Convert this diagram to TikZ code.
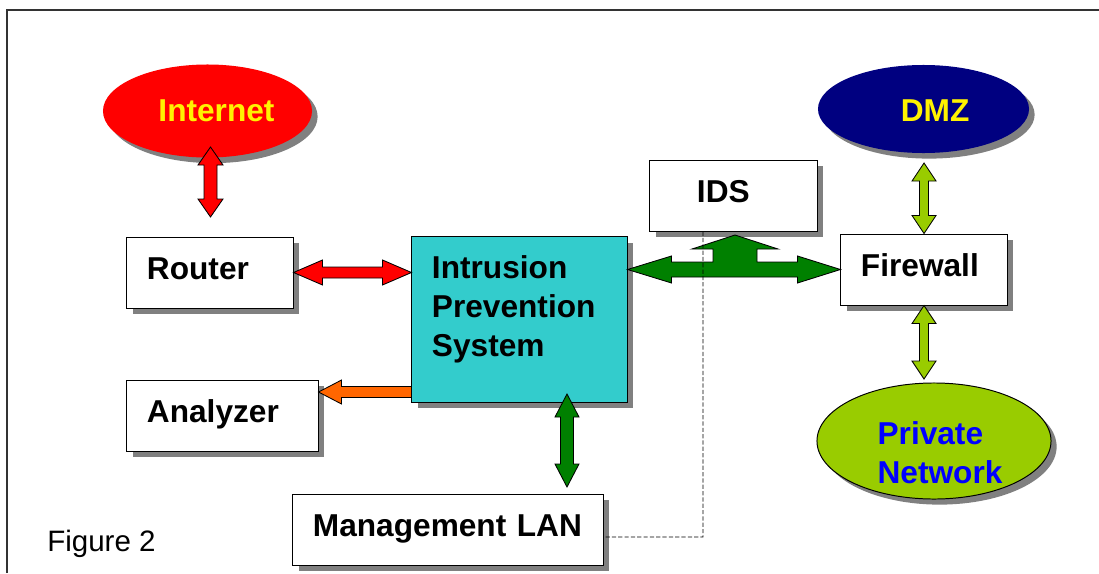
\documentclass[tikz,border=0pt]{standalone}
\usepackage{fontspec}
\setmainfont{Liberation Sans}
\usetikzlibrary{shapes.geometric, shadows, calc}
\definecolor{shadowgray}{HTML}{808080}
\definecolor{framegray}{HTML}{333333}
\definecolor{inetred}{HTML}{FF0000}
\definecolor{dmznavy}{HTML}{000080}
\definecolor{netlime}{HTML}{99CC00}
\definecolor{netblue}{HTML}{0000FF}
\definecolor{ipscyan}{HTML}{33CCCC}
\definecolor{anaorange}{HTML}{FF6600}
\definecolor{mgmtgreen}{HTML}{008000}

\begin{document}
\begin{tikzpicture}[x = 0.025cm, y = -0.025cm]
			    \tikzstyle{box}=[draw,fill=white,line width=.7pt,inner xsep=.5cm,inner ysep=0pt,align=left,text height=1.05cm,text depth=.725cm,font=\bfseries\fontsize{22.5}{27.5}\selectfont,drop shadow={shadow xshift=.14cm,shadow yshift=-.14cm,fill=shadowgray,opacity=1}]
			    \tikzstyle{cloud}=[ellipse,inner sep=0pt,drop shadow={shadow xshift=.14cm,shadow yshift=-.14cm,fill=shadowgray,opacity=1}]
			    \tikzstyle{cloudtext}=[inner sep=0pt,align=left,font=\bfseries\fontsize{22.5}{27.5}\selectfont]
			    \tikzstyle{blockarrow}=[draw=black,line width=.6pt,line join=miter]
			    \tikzstyle{dashline}=[draw=black,line width=.7pt,dash pattern=on 3pt off 1.5pt]
			    \useasboundingbox (0,0) rectangle (1099,573);
			    \draw[line width=1.4pt,framegray] (7,573) -- (7,10) -- (1099,10);
			    % clouds
			    \node[cloud,fill=inetred,minimum width=5.225cm,minimum height=2.325cm,label={[cloudtext,text=yellow,xshift=.225cm]center:Internet}] (inet) at (207.5,111) {};
			    \node[cloud,fill=dmznavy,minimum width=5.275cm,minimum height=2.2cm,label={[cloudtext,text=yellow,xshift=.29cm,yshift=-.05cm]center:DMZ}] (dmz) at (923.5,109) {};
			    \node[cloud,draw,line width=.7pt,fill=netlime,minimum width=5.85cm,minimum height=2.9cm,label={[cloudtext,text=netblue,xshift=.15cm,yshift=-.29cm]center:Private\\Network}] (priv) at (934,441) {};
			    % boxes
			    \node[box,text width=3.15cm] (router) at (210,272.5) {Router};
			    \node[box,fill=ipscyan,text width=4.375cm,text depth=3.075cm] (ips) at (519.5,319.5) {Intrusion\\Prevention\\System};
			    \node[box,text width=3.775cm] (analyzer) at (222.5,416) {Analyzer};
			    \node[box,text width=6.75cm] (mgmt) at (448,529.5) {Management LAN};
			    \node[box,inner xsep=1.175cm,text width=1.825cm] (ids) at (733.5,195.5) {IDS};
			    \node[box,text width=3.15cm] (fw) at (924,269.5) {Firewall};
			    \node[inner sep=0pt,anchor=base west,font=\fontsize{21}{25}\selectfont] (fig) at (47,551) {Figure 2};
			    % arrow ends
			    \coordinate (inetend) at (210.5,147);
			    \coordinate (routerend) at (210.5,217);
			    \coordinate (ipsin) at (ips.west |- router.east);
			    \coordinate (anaout) at ($(ips.south west)+(0,-10.5)$);
			    \coordinate (anain) at (analyzer.east |- anaout);
			    \coordinate (ipsbot) at (567,394);
			    \coordinate (lantop) at (567,487);
			    \coordinate (ipsout) at (ips.east |- fw.west);
			    \coordinate (idsin) at (735,235);
			    \coordinate (dmzend) at (924,163);
			    \coordinate (privend) at (924,379);
			    \coordinate (lanjoint) at (703,537);
			    % arrows
			    \draw[blockarrow,fill=inetred] (inetend) -- ++(12.5,18) -- ++(-6,0) -- ($(routerend)+(6.5,-18)$) -- ++(6,0) -- (routerend) -- ++(-12.5,-18) -- ++(6,0) -- ($(inetend)+(-6.5,18)$) -- ++(-6,0) -- cycle;
			    \draw[blockarrow,fill=inetred] (router.east) -- ++(29,-12.5) -- ++(0,7) -- ($(ipsin)+(-29,-5.5)$) -- ++(0,-7) -- (ipsin) -- ++(-29,12.5) -- ++(0,-7) -- ($(router.east)+(29,5.5)$) -- ++(0,7) -- cycle;
			    \draw[blockarrow,fill=anaorange] (anain) -- ++(23,-12) -- ++(0,6.5) -- ($(anaout)+(0,-5.5)$) -- ($(anaout)+(0,5.5)$) -- ($(anain)+(23,5.5)$) -- ++(0,6.5) -- cycle;
			    \draw[blockarrow,fill=mgmtgreen] (ipsbot) -- ++(12,23) -- ++(-5.5,0) -- ($(lantop)+(6.5,-23)$) -- ++(5.5,0) -- (lantop) -- ++(-12,-23) -- ++(5.5,0) -- ($(ipsbot)+(-6.5,23)$) -- ++(-5.5,0) -- cycle;
			    \draw[blockarrow,fill=mgmtgreen] (ipsout) -- ++(44,-13.5) -- ++(0,6) -- ($(idsin)+(-22,27)$) -- ++(0,-13) -- ++(-21,0) -- (idsin) -- ($(idsin)+(43,14)$) -- ++(-21,0) -- ($(idsin)+(22,27)$) -- ($(fw.west)+(-43,-7.5)$) -- ++(0,-6) -- (fw.west) -- ++(-43,13.5) -- ++(0,-6) -- ($(ipsout)+(44,7.5)$) -- ++(0,6) -- cycle;
			    \draw[blockarrow,fill=netlime] (dmzend) -- ++(12,18) -- ++(-7.5,0) -- ($(fw.north)+(4.5,-18)$) -- ++(7.5,0) -- (fw.north) -- ++(-12,-18) -- ++(7.5,0) -- ($(dmzend)+(-4.5,18)$) -- ++(-7.5,0) -- cycle;
			    \draw[blockarrow,fill=netlime] (fw.south) -- ++(12,18) -- ++(-7.5,0) -- ($(privend)+(4.5,-18)$) -- ++(7.5,0) -- (privend) -- ++(-12,-18) -- ++(7.5,0) -- ($(fw.south)+(-4.5,18)$) -- ++(-7.5,0) -- cycle;
			    % management link to IDS
			    \draw[dashline] ($(mgmt.east)+(2,7.5)$) -- (lanjoint) -- (lanjoint |- ids.south);
\end{tikzpicture}
\end{document}
